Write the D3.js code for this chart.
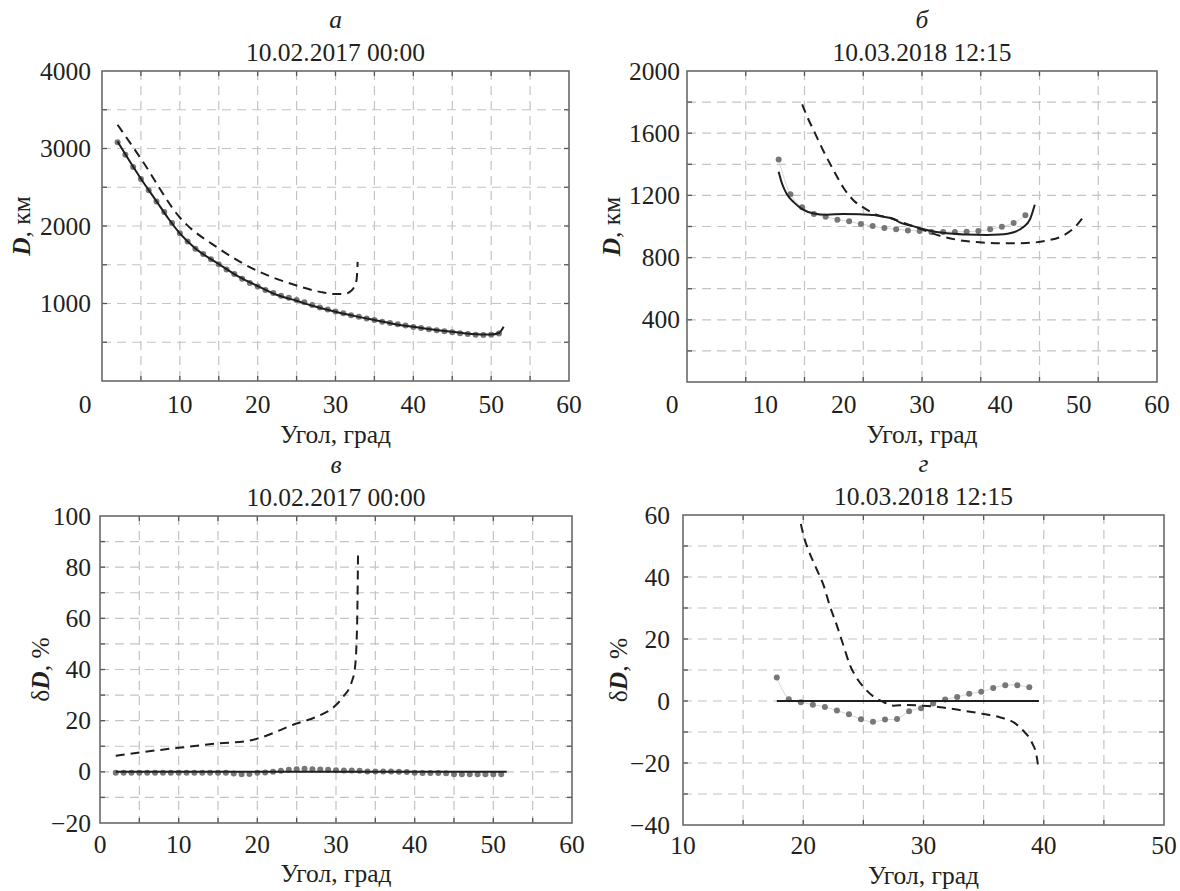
<!DOCTYPE html>
<html lang="ru">
<head>
<meta charset="UTF-8">
<title>D и δD от угла</title>
<script src="https://d3js.org/d3.v7.min.js"></script>
<style>
  body { margin: 0; background: #fff; }
  svg text { fill: #231f20; }
  .grid { stroke: #c4c4c4; stroke-width: 1.2; stroke-dasharray: 9,6; }
</style>
</head>
<body>
<script>
// ---- panel а : 10.02.2017 00:00, D (km) ----
const angA_solid = [2, 3.5, 5, 7, 8.5, 10, 12, 15, 17.5, 20, 22.5, 25, 27.5, 30, 32.5, 35, 37.5, 40, 42.5, 45, 47.5, 50, 51, 51.6];
const dA_solid   = [3090, 2845, 2610, 2320, 2100, 1905, 1710, 1510, 1350, 1225, 1110, 1035, 958, 893, 837, 786, 736, 700, 665, 635, 607, 600, 620, 700];
const angA_dash  = [2, 5, 10, 15, 20, 25, 28, 30, 31, 32.1, 32.7, 32.85];
const dA_dash    = [3307, 2869, 2110, 1710, 1420, 1232, 1150, 1121, 1121, 1172, 1301, 1537];
const angA_dots  = [2, 3, 4, 5, 6, 7, 8, 9, 10, 11, 12, 13, 14, 15, 16, 17, 18, 19, 20, 21, 22, 23, 24, 25, 26,
                    27, 28, 29, 30, 31, 32, 33, 34, 35, 36, 37, 38, 39, 40, 41, 42, 43, 44, 45, 46, 47, 48, 49, 50, 51];
const dA_dots    = [3080, 2920, 2760, 2605, 2460, 2315, 2180, 2040, 1905, 1800, 1705, 1640, 1570, 1505, 1440, 1380, 1320, 1265, 1220, 1175, 1135, 1100, 1075, 1045, 1015,
                    982, 950, 922, 898, 873, 850, 828, 806, 786, 766, 747, 731, 715, 697, 683, 668, 655, 643, 628, 616, 606, 598, 595, 596, 612];

// ---- panel б : 10.03.2018 12:15, D (km) ----
const angB_solid = [17.8, 18.1, 18.5, 19.1, 19.8, 20.8, 21.9, 23.3, 24.7, 25.9, 26.7, 27.6, 28.1, 29.3, 30.4, 32.1, 33.8, 35.5, 36.6, 37.8, 38.6, 39.2, 39.6];
const dB_solid   = [1352, 1273, 1208, 1155, 1112, 1084, 1076, 1080, 1078, 1074, 1063, 1048, 1027, 1001, 978, 956, 948, 945, 948, 963, 995, 1048, 1140];
const angB_dash  = [19.8, 20.2, 20.8, 21.6, 22.5, 23.3, 24.2, 25.0, 26.1, 27.3, 28.7, 30.1, 31.5, 32.9, 34.9, 37.2, 38.9, 40.6, 42.0, 43.0, 43.7];
const dB_dash    = [1786, 1711, 1615, 1487, 1358, 1251, 1166, 1123, 1076, 1055, 1016, 978, 941, 916, 898, 892, 894, 909, 941, 995, 1059];
const angB_dots  = [17.8, 18.8, 19.8, 20.8, 21.8, 22.8, 23.8, 24.8, 25.8, 26.8, 27.8, 28.8, 29.8, 30.8, 31.8, 32.8, 33.8, 34.8, 35.8, 36.8, 37.8, 38.8];
const dB_dots    = [1431, 1208, 1123, 1080, 1063, 1044, 1033, 1016, 1003, 990, 982, 975, 971, 965, 965, 965, 967, 971, 982, 999, 1022, 1072];

// ---- panel в : 10.02.2017 00:00, δD (%) ----
const angV_solid = [2, 51.7];
const dV_solid   = [0, 0];
const angV_dash  = [2, 5.1, 10, 15, 18.6, 20, 25, 27.5, 30, 30.9, 32, 32.4, 32.6, 32.7, 32.8];
const dV_dash    = [6.3, 7.6, 9.4, 11.1, 12.0, 13.0, 18.9, 21.5, 26.1, 29.3, 35.2, 40.4, 49.5, 60, 84.7];
const angV_dots  = angA_dots;
const dV_dots    = [-0.4, -0.4, -0.4, -0.4, -0.4, -0.4, -0.4, -0.4, -0.4, -0.4, -0.4, -0.4, -0.4, -0.4, -0.4, -0.7, -0.9, -0.8, -0.4, -0.3, 0, 0.4, 0.8, 1.0, 1.2,
                    1.0, 0.9, 0.8, 0.65, 0.5, 0.5, 0.4, 0.1, 0.1, 0.1, 0.1, 0, -0.1, -0.4, -0.5, -0.5, -0.5, -0.6, -0.9, -0.9, -0.9, -0.9, -0.9, -0.9, -0.9];

// ---- panel г : 10.03.2018 12:15, δD (%) ----
const angG_solid = [17.8, 39.6];
const dG_solid   = [0, 0];
const angG_dash  = [19.8, 20.1, 20.4, 21.1, 21.7, 22.2, 22.8, 23.35, 23.9, 24.5, 25.15, 25.85, 26.7, 27.5, 28.6, 30.0, 31.4, 33.3, 35.0, 36.4, 37.5, 38.3, 39.0, 39.4, 39.55];
const dG_dash    = [57.1, 52.3, 49.0, 42.6, 37.2, 30.8, 24.3, 17.8, 11.4, 7.1, 3.9, 1.4, -0.4, -1.5, -1.3, -1.5, -2.0, -3.1, -4.2, -5.3, -6.9, -9.6, -13.3, -17.6, -21.4];
const angG_dots  = angB_dots;
const dG_dots    = [7.6, 0.6, -0.4, -1.2, -1.9, -3.1, -4.3, -5.9, -6.7, -6.0, -5.8, -3.3, -2.3, -0.8, 0.5, 1.3, 2.3, 3.0, 4.2, 5.1, 5.1, 4.4];

// ---- ticks / labels ----
const xTicks060  = [0, 10, 20, 30, 40, 50, 60];
const xTicks1050 = [10, 20, 30, 40, 50];
const yTicksA = [1000, 2000, 3000, 4000];
const yTicksB = [400, 800, 1200, 1600, 2000];
const yTicksV = [-20, 0, 20, 40, 60, 80, 100];
const yTicksG = [-40, -20, 0, 20, 40, 60];
const dateFeb = "10.02.2017 00:00";
const dateMar = "10.03.2018 12:15";
const xTitle = "Угол, град";

const FONT = "'Liberation Serif', 'Times New Roman', serif";
const FS = 25.5;

const zip = (a, b) => a.map((v, i) => [v, b[i]]);
const fmt = v => v < 0 ? "\u2212" + Math.abs(v) : String(v);

const svg = d3.select("body").append("svg").attr("width", 1180).attr("height", 891)
  .attr("font-family", FONT).attr("font-size", FS);

function drawPanel(p) {
  const g = svg.append("g");
  const x = d3.scaleLinear().domain(p.xDomain).range([p.left, p.right]);
  const y = d3.scaleLinear().domain(p.yDomain).range([p.bottom, p.top]);
  const xGrid = d3.range(p.xDomain[0] + p.xStep, p.xDomain[1] - 1e-9, p.xStep);
  const yGrid = d3.range(p.yDomain[0] + p.yStep, p.yDomain[1] - 1e-9, p.yStep);

  g.selectAll(".gx").data(xGrid).join("line").attr("class", "grid")
    .attr("x1", d => x(d)).attr("x2", d => x(d)).attr("y1", p.top).attr("y2", p.bottom);
  g.selectAll(".gy").data(yGrid).join("line").attr("class", "grid")
    .attr("x1", p.left).attr("x2", p.right).attr("y1", d => y(d)).attr("y2", d => y(d));

  // inward ticks on all four sides
  const tk = 5;
  xGrid.forEach(v => {
    g.append("line").attr("x1", x(v)).attr("x2", x(v)).attr("y1", p.bottom).attr("y2", p.bottom - tk).attr("stroke", "#555").attr("stroke-width", 1.3);
    g.append("line").attr("x1", x(v)).attr("x2", x(v)).attr("y1", p.top).attr("y2", p.top + tk).attr("stroke", "#555").attr("stroke-width", 1.3);
  });
  yGrid.forEach(v => {
    g.append("line").attr("x1", p.left).attr("x2", p.left + tk).attr("y1", y(v)).attr("y2", y(v)).attr("stroke", "#555").attr("stroke-width", 1.3);
    g.append("line").attr("x1", p.right).attr("x2", p.right - tk).attr("y1", y(v)).attr("y2", y(v)).attr("stroke", "#555").attr("stroke-width", 1.3);
  });

  g.append("rect").attr("x", p.left).attr("y", p.top)
    .attr("width", p.right - p.left).attr("height", p.bottom - p.top)
    .attr("fill", "none").attr("stroke", "#6a6a6a").attr("stroke-width", 1.6);

  // data
  const line = d3.line().x(d => x(d[0])).y(d => y(d[1])).curve(d3.curveMonotoneX);
  const dots = zip(p.dots[0], p.dots[1]);
  if (p.dotLine) {
    g.append("path").attr("d", d3.line().x(d => x(d[0])).y(d => y(d[1])).curve(d3.curveCatmullRom)(dots))
      .attr("fill", "none").attr("stroke", "#d6d6d6").attr("stroke-width", 1);
  }
  g.selectAll(".dot").data(dots).join("circle")
    .attr("cx", d => x(d[0])).attr("cy", d => y(d[1])).attr("r", 3).attr("fill", "#777");
  g.append("path").attr("d", line(zip(p.solid[0], p.solid[1])))
    .attr("fill", "none").attr("stroke", "#1e1e1e").attr("stroke-width", 2);
  g.append("path").attr("d", line(zip(p.dash[0], p.dash[1])))
    .attr("fill", "none").attr("stroke", "#1e1e1e").attr("stroke-width", 2).attr("stroke-dasharray", "9,6");

  // tick labels (panel б carries 0..60 labels over its 10..50 data axis, as printed)
  const xl = d3.scaleLinear().domain(p.xLabelDomain).range([p.left, p.right]);
  g.selectAll(".xl").data(p.xTicks).join("text")
    .attr("x", (d, i) => xl(d) + (i === 0 ? p.firstShift : 0)).attr("y", p.bottom + p.xTickDy)
    .attr("text-anchor", "middle").text(fmt);
  g.selectAll(".yl").data(p.yTicks).join("text")
    .attr("x", p.left - p.yGap).attr("y", d => y(d) + 8.5)
    .attr("text-anchor", "end").text(fmt);

  // titles
  const cx = (p.left + p.right) / 2;
  g.append("text").attr("x", cx).attr("y", p.top - 43)
    .attr("text-anchor", "middle").attr("font-style", "italic").text(p.letter);
  g.append("text").attr("x", cx).attr("y", p.top - 10)
    .attr("text-anchor", "middle").text(p.date);
  g.append("text").attr("x", cx).attr("y", p.bottom + p.xTitleDy)
    .attr("text-anchor", "middle").text(xTitle);

  const cy = (p.top + p.bottom) / 2;
  const yt = g.append("text")
    .attr("transform", `translate(${p.yTitleX},${cy}) rotate(-90)`)
    .attr("text-anchor", "middle").attr("dominant-baseline", "central");
  if (p.pct) yt.append("tspan").text("δ");
  yt.append("tspan").attr("font-style", "italic").attr("font-weight", "bold").text("D");
  yt.append("tspan").text(p.pct ? ", %" : ", км");
}

drawPanel({
  left: 102, right: 569, top: 71, bottom: 381, xTickDy: 32, xTitleDy: 62,
  xDomain: [0, 60], yDomain: [0, 4000], xStep: 5, yStep: 500,
  xTicks: xTicks060, xLabelDomain: [0, 60], firstShift: -17, yTicks: yTicksA, yGap: 11,
  letter: "а", date: dateFeb, yTitleX: 21, pct: false,
  solid: [angA_solid, dA_solid], dash: [angA_dash, dA_dash], dots: [angA_dots, dA_dots], dotLine: false
});
drawPanel({
  left: 687, right: 1157, top: 71, bottom: 382, xTickDy: 31, xTitleDy: 61,
  xDomain: [10, 50], yDomain: [0, 2000], xStep: 5, yStep: 200,
  xTicks: xTicks060, xLabelDomain: [0, 60], firstShift: -15, yTicks: yTicksB, yGap: 7,
  letter: "б", date: dateMar, yTitleX: 611, pct: false,
  solid: [angB_solid, dB_solid], dash: [angB_dash, dB_dash], dots: [angB_dots, dB_dots], dotLine: true
});
drawPanel({
  left: 100, right: 572, top: 516, bottom: 823, xTickDy: 30, xTitleDy: 59,
  xDomain: [0, 60], yDomain: [-20, 100], xStep: 5, yStep: 10,
  xTicks: xTicks060, xLabelDomain: [0, 60], firstShift: 0, yTicks: yTicksV, yGap: 9,
  letter: "в", date: dateFeb, yTitleX: 40, pct: true,
  solid: [angV_solid, dV_solid], dash: [angV_dash, dV_dash], dots: [angV_dots, dV_dots], dotLine: false
});
drawPanel({
  left: 683, right: 1164, top: 515, bottom: 825, xTickDy: 29, xTitleDy: 59,
  xDomain: [10, 50], yDomain: [-40, 60], xStep: 5, yStep: 10,
  xTicks: xTicks1050, xLabelDomain: [10, 50], firstShift: 0, yTicks: yTicksG, yGap: 13,
  letter: "г", date: dateMar, yTitleX: 618, pct: true,
  solid: [angG_solid, dG_solid], dash: [angG_dash, dG_dash], dots: [angG_dots, dG_dots], dotLine: true
});
</script>
</body>
</html>
